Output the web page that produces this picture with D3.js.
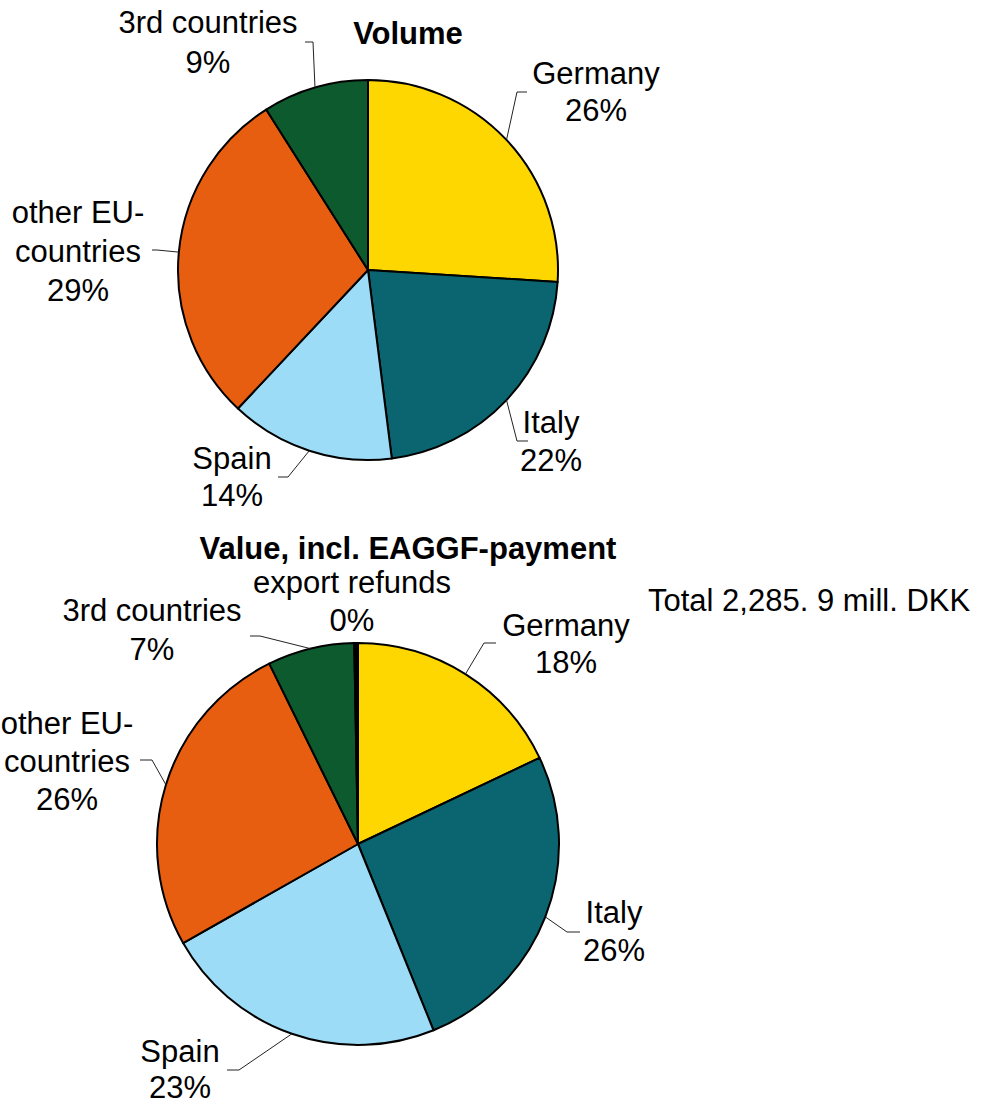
<!DOCTYPE html>
<html>
<head>
<meta charset="utf-8">
<script src="https://cdn.jsdelivr.net/npm/d3@7"></script>
<style>
  body { margin: 0; background: #fff; }
  text { font-family: Arial, "Liberation Sans", sans-serif; fill: #000; }
</style>
</head>
<body>
<div id="chart"></div>
<script>
// export shares, clockwise from 12 o'clock
const categories = ["Germany", "Italy", "Spain", "other EU-countries", "3rd countries", "export refunds"];
const volumeShares = [26, 22, 14, 29, 9];
const valueShares = [18, 26, 23, 26, 7, 0.3];
const sliceColors = ["#FFD700", "#0B6570", "#9DDCF7", "#E85E10", "#0C5A2E", "#000000"];
// how each category name is broken over lines
const labelLines = [["Germany"], ["Italy"], ["Spain"], ["other EU-", "countries"], ["3rd countries"], ["export refunds"]];
const totalNote = "Total 2,285. 9 mill. DKK";

const width = 983,
    height = 1104,
    fontSize = 31;

const svg = d3.select("#chart")
    .append("svg")
    .attr("width", width)
    .attr("height", height)
    .attr("viewBox", [0, 0, width, height]);

// label placement: text centre x, first line y, line step, leader elbow and leader end x
const pies = [
  {
    title: "Volume", titleX: 408, titleY: 33,
    cx: 368, cy: 270, r: 190, shares: volumeShares,
    labels: [
      {tx: 596, ty: 73, step: 37, ex: 527, bx: 517, by: 92},
      {tx: 551, ty: 422, step: 38, ex: 528, bx: 517, by: 441},
      {tx: 232, ty: 458, step: 37, ex: 278, bx: 288, by: 477},
      {tx: 78, ty: 212, step: 39, ex: 152, bx: 157, by: 250},
      {tx: 208, ty: 22, step: 40, ex: 305, bx: 313, by: 42}
    ]
  },
  {
    title: "Value, incl. EAGGF-payment", titleX: 408, titleY: 548,
    cx: 358, cy: 844, r: 201, shares: valueShares,
    labels: [
      {tx: 566, ty: 625, step: 37, ex: 496, bx: 484, by: 643},
      {tx: 614, ty: 912, step: 38, ex: 580, bx: 567, by: 932},
      {tx: 180, ty: 1051, step: 36, ex: 227, bx: 239, by: 1070},
      {tx: 67, ty: 723, step: 38, ex: 140, bx: 152, by: 760},
      {tx: 152, ty: 610, step: 39, ex: 250, bx: 260, by: 636},
      {tx: 352, ty: 582, step: 38, ex: null}
    ]
  }
];

const pie = d3.pie().sort(null).value(d => d.value);

pies.forEach(p => {
    const data = p.shares.map((v, i) => ({name: categories[i], value: v, i: i}));
    const arcs = pie(data);
    const total = d3.sum(p.shares);

    const arc = d3.arc().innerRadius(0).outerRadius(p.r);
    const edge = d3.arc().innerRadius(p.r).outerRadius(p.r);

    const g = svg.append("g")
        .attr("transform", `translate(${p.cx},${p.cy})`);

    g.selectAll("path")
        .data(arcs)
        .join("path")
        .attr("d", arc)
        .attr("fill", d => sliceColors[d.data.i])
        .attr("stroke", "#000")
        .attr("stroke-width", 2)
        .attr("stroke-linejoin", "round");

    // leader lines from the arc edge at mid angle
    arcs.forEach((a, k) => {
        const lab = p.labels[k];
        if (lab.ex == null) return;
        const [px, py] = edge.centroid(a);
        svg.append("polyline")
            .attr("points", [[lab.ex, lab.by], [lab.bx, lab.by], [p.cx + px, p.cy + py]].join(" "))
            .attr("fill", "none")
            .attr("stroke", "#222")
            .attr("stroke-width", 1);
    });

    // labels: name lines then percentage
    arcs.forEach((a, k) => {
        const lab = p.labels[k];
        const lines = labelLines[a.data.i].concat([Math.round(a.data.value / total * 100) + "%"]);
        const t = svg.append("text")
            .attr("text-anchor", "middle")
            .attr("font-size", fontSize);
        lines.forEach((s, j) => {
            t.append("tspan")
                .attr("x", lab.tx)
                .attr("y", lab.ty + j * lab.step)
                .attr("dy", "0.35em")
                .text(s);
        });
    });

    svg.append("text")
        .attr("x", p.titleX)
        .attr("y", p.titleY)
        .attr("dy", "0.35em")
        .attr("text-anchor", "middle")
        .attr("font-size", fontSize)
        .attr("font-weight", "bold")
        .text(p.title);
});

svg.append("text")
    .attr("x", 648)
    .attr("y", 600)
    .attr("dy", "0.35em")
    .attr("font-size", fontSize)
    .text(totalNote);
</script>
</body>
</html>
